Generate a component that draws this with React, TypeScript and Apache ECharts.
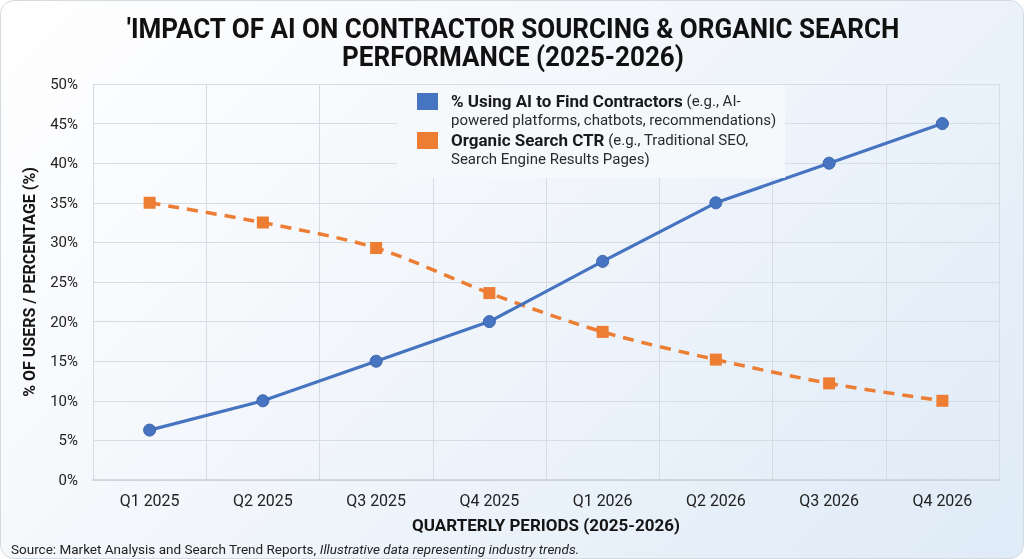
import React, { useEffect, useRef } from "react";
import * as echarts from "echarts";

// Quarterly periods along the x axis
const quarters = ["Q1 2025", "Q2 2025", "Q3 2025", "Q4 2025", "Q1 2026", "Q2 2026", "Q3 2026", "Q4 2026"];

// Share of users using AI to find contractors (%)
const aiUsage = [6.3, 10, 15, 20, 27.6, 35, 40, 45];

// Organic search click-through rate (%)
const organicCtr = [35, 32.5, 29.3, 23.6, 18.7, 15.2, 12.2, 10];

const seriesNames = ["% Using AI to Find Contractors", "Organic Search CTR"];
const seriesNotes = [
  ["(e.g., AI-", "powered platforms, chatbots, recommendations)"],
  ["(e.g., Traditional SEO,", "Search Engine Results Pages)"],
];

const titleLines = [
  "'IMPACT OF AI ON CONTRACTOR SOURCING & ORGANIC SEARCH",
  "PERFORMANCE (2025-2026)",
];
const xAxisTitle = "QUARTERLY PERIODS (2025-2026)";
const yAxisTitle = "% OF USERS / PERCENTAGE (%)";
const sourceText = "Source: Market Analysis and Search Trend Reports, ";
const sourceNote = "Illustrative data representing industry trends.";

const BLUE = "#4674c1";
const ORANGE = "#ec7d33";
const FONT = "Roboto, 'Noto Sans', sans-serif";

export default function App() {
  const ref = useRef<HTMLDivElement>(null);

  useEffect(() => {
    document.body.style.margin = "0";
    if (!ref.current) return;
    const chart = echarts.init(ref.current, undefined, { renderer: "svg" });

    // Legend entry: colour swatch aligned with the first line of a two-line label
    const legendItem = (i: number, color: string, y: number) => [
      {
        type: "rect",
        z: 6,
        shape: { x: 416, y: y - 8, width: 21, height: 17 },
        style: { fill: color },
      },
      {
        type: "text",
        z: 6,
        x: 450,
        y: y - 10,
        style: {
          text:
            "{b|" + seriesNames[i] + "} {n|" + seriesNotes[i][0] + "}\n{n|" + seriesNotes[i][1] + "}",
          font: "15px " + FONT,
          fill: "#1f1f1f",
          lineHeight: 19,
          rich: {
            b: { fontWeight: "bold", fontSize: 17, fontFamily: FONT, fill: "#1a1a1a", lineHeight: 19 },
            n: { fontSize: 15, fontFamily: FONT, fill: "#2a2a2a", lineHeight: 19 },
          },
        },
      },
    ];

    const titleText = (text: string, y: number) => ({
      type: "text",
      x: 512,
      y,
      scaleX: 0.93,
      style: {
        text,
        font: "bold 28px " + FONT,
        fill: "#111",
        textAlign: "center",
        textVerticalAlign: "middle",
      },
    });

    chart.setOption({
      animation: false,
      backgroundColor: "transparent",
      grid: { left: 92, right: 24, top: 83, bottom: 78 },
      xAxis: {
        type: "category",
        data: quarters,
        boundaryGap: true,
        name: xAxisTitle,
        nameLocation: "middle",
        nameGap: 36,
        nameTextStyle: { fontFamily: FONT, fontWeight: "bold", fontSize: 17, color: "#151515" },
        axisLine: { show: true, lineStyle: { color: "#c9cfd6", width: 1.5 } },
        axisTick: { show: false },
        axisLabel: { fontFamily: FONT, fontSize: 16, color: "#222", margin: 12 },
        splitLine: { show: true, lineStyle: { color: "#d6dce3", width: 1 } },
      },
      yAxis: {
        type: "value",
        min: 0,
        max: 50,
        interval: 5,
        name: yAxisTitle,
        nameLocation: "middle",
        nameRotate: 90,
        nameGap: 56,
        nameTextStyle: { fontFamily: FONT, fontWeight: "bold", fontSize: 16, color: "#151515" },
        axisLine: { show: false },
        axisTick: { show: false },
        axisLabel: { fontFamily: FONT, fontSize: 15, color: "#222", margin: 15, formatter: "{value}%" },
        splitLine: { show: true, lineStyle: { color: "#d6dce3", width: 1 } },
      },
      series: [
        {
          name: seriesNames[0],
          type: "line",
          data: aiUsage,
          symbol: "circle",
          symbolSize: 12,
          lineStyle: { color: BLUE, width: 3.2 },
          itemStyle: { color: BLUE, borderColor: "#3b64ab", borderWidth: 1 },
          z: 4,
        },
        {
          name: seriesNames[1],
          type: "line",
          data: organicCtr,
          smooth: 0.3,
          symbol: "rect",
          symbolSize: 12,
          lineStyle: { color: ORANGE, width: 3.5, type: [11, 8] },
          itemStyle: { color: ORANGE },
          z: 3,
        },
      ],
      graphic: [
        titleText(titleLines[0], 28),
        titleText(titleLines[1], 56),
        {
          type: "rect",
          z: 5,
          shape: { x: 396, y: 84, width: 388, height: 93 },
          style: { fill: "#f6f9fc" },
        },
        ...legendItem(0, BLUE, 100),
        ...legendItem(1, ORANGE, 139),
        {
          type: "text",
          x: 10,
          y: 548,
          style: {
            text: "{n|" + sourceText + "}{i|" + sourceNote + "}",
            font: "13.5px " + FONT,
            fill: "#222",
            textVerticalAlign: "middle",
            rich: {
              n: { fontSize: 13.5, fontFamily: FONT, fill: "#222" },
              i: { fontSize: 13.5, fontFamily: FONT, fontStyle: "italic", fill: "#222" },
            },
          },
        },
      ],
    });

    return () => chart.dispose();
  }, []);

  return (
    <div
      style={{
        position: "fixed",
        left: 0,
        top: 0,
        width: 1024,
        height: 559,
        boxSizing: "border-box",
        border: "1px solid #d4dae1",
        borderRadius: 14,
        overflow: "hidden",
        background: "linear-gradient(135deg, #ffffff 0%, #f4f7fb 40%, #e7f0f9 75%, #dfebf7 100%)",
      }}
    >
      <div ref={ref} style={{ width: 1022, height: 557 }} />
    </div>
  );
}
